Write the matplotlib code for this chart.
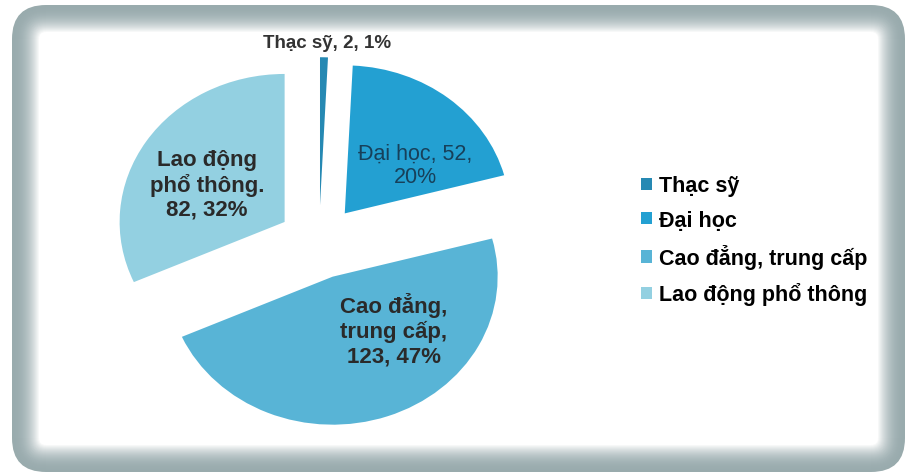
import numpy as np
import matplotlib.pyplot as plt
from matplotlib.patches import FancyBboxPatch, Patch

plt.rcParams['font.family'] = ['Liberation Sans', 'DejaVu Sans']

# du lieu
categories = ['Thạc sỹ', 'Đại học', 'Cao đẳng, trung cấp', 'Lao động phổ thông']
values = [2, 52, 123, 82]
percents = ['1%', '20%', '47%', '32%']
colors = ['#2689b3', '#23a0d2', '#58b4d6', '#93d0e1']

W, H = 911, 477
fig = plt.figure(figsize=(W / 100, H / 100), dpi=100)

# khung nen bo tron, vien xam
bg = fig.add_axes([0, 0, 1, 1])
bg.set_xlim(0, W)
bg.set_ylim(0, H)
bg.axis('off')
edge = np.array([0.60, 0.67, 0.68])
n = 28
for i in range(n):
    t = i / (n - 1)
    c = edge + (1 - edge) * t ** 2.2
    ins = i * 1.0
    bg.add_patch(FancyBboxPatch((12 + ins, 4 + ins), 893 - 2 * ins, 467 - 2 * ins,
                                boxstyle='round,pad=0,rounding_size=%f' % max(34 - ins, 4),
                                fc=c, ec='none'))
bg.add_patch(FancyBboxPatch((40, 32), 838, 411, boxstyle='round,pad=0,rounding_size=6',
                            fc='white', ec='none'))

# banh (hinh hoi det theo chieu doc nhu anh goc)
sy = 0.897
ax = fig.add_axes([0, 0, 1, 1])
ax.patch.set_alpha(0)
cx, cy = 319, (H - 243) / sy
ax.pie(values, colors=colors, startangle=90, counterclock=False,
       explode=[41] * 4, radius=165, center=(cx, cy),
       wedgeprops=dict(linewidth=0))
ax.set_aspect('auto')
ax.set_xlim(0, W)
ax.set_ylim(0, H / sy)
ax.axis('off')


def px(x, y):
    return x, (H - y) / sy


ax.text(*px(327, 43), '%s, %d, %s' % (categories[0], values[0], percents[0]),
        ha='center', va='center', fontsize=13.5, color='#333333', fontweight='bold')
ax.text(*px(415, 166), 'Đại học, %d,\n%s' % (values[1], percents[1]),
        ha='center', va='center', fontsize=15.5, color='#17405a', linespacing=1.15)
ax.text(*px(394, 330), 'Cao đẳng,\ntrung cấp,\n%d, %s' % (values[2], percents[2]),
        ha='center', va='center', fontsize=16, color='#2a2a2a', linespacing=1.2,
        fontweight='bold')
ax.text(*px(207, 185), 'Lao động\nphổ thông.\n%d, %s' % (values[3], percents[3]),
        ha='center', va='center', fontsize=16, color='#2a2a2a', linespacing=1.15,
        fontweight='bold')

handles = [Patch(fc=c, ec='none') for c in colors]
fig.legend(handles, categories, loc='upper left', bbox_to_anchor=(622 / W, 1 - 157 / H),
           frameon=False, handlelength=0.5, handleheight=0.5,
           handletextpad=0.3, labelspacing=0.62, prop={'weight': 'bold', 'size': 15.5})

fig.savefig('out.png', dpi=100)
